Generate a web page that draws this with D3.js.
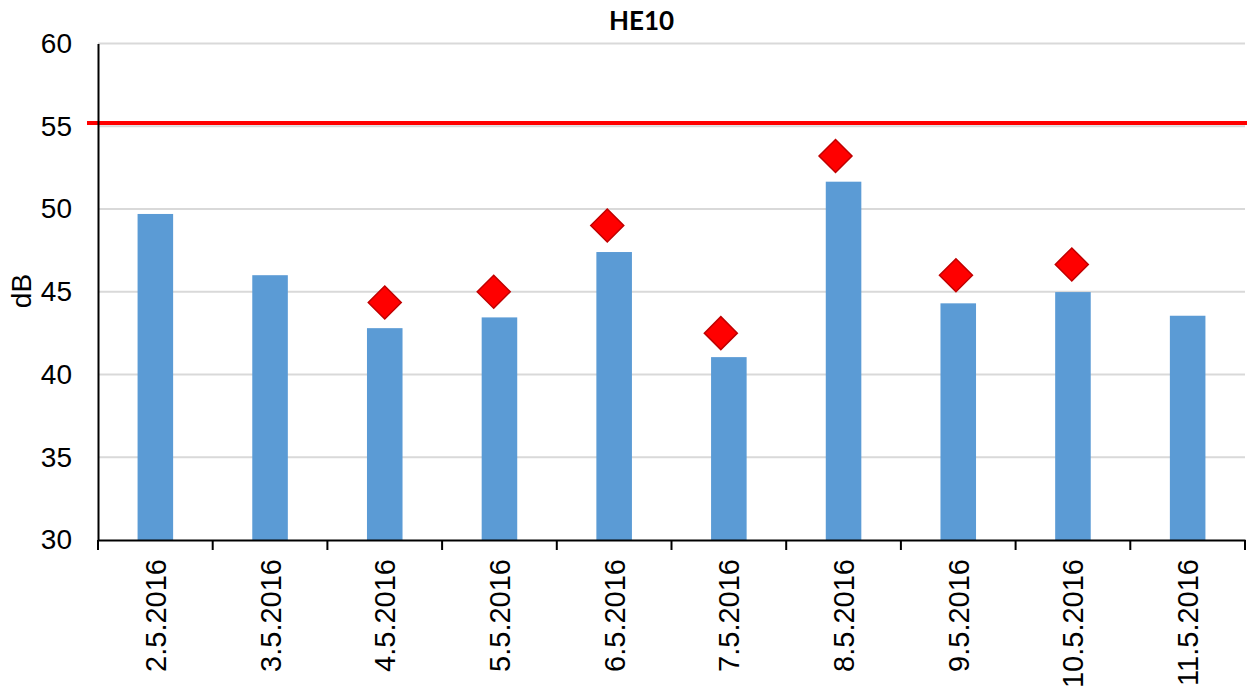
<!doctype html>
<html>
<head>
    <style>
        body { margin: 0; background: #fff; }
        .bar { fill: #5b9bd5; }
        text { font-family: "Liberation Sans", Arial, sans-serif; }
    </style>
    <script src="https://d3js.org/d3.v7.min.js"></script>
</head>
<body>
<svg width="1247" height="691"></svg>
<script>
var dates = ["2.5.2016", "3.5.2016", "4.5.2016", "5.5.2016", "6.5.2016",
             "7.5.2016", "8.5.2016", "9.5.2016", "10.5.2016", "11.5.2016"];
var barValues = [49.7, 46.0, 42.8, 43.45, 47.4, 41.05, 51.65, 44.3, 44.98, 43.55];
// diamonds: day of May (fractional, measurement time) and level
var diamondDays = [4.0, 4.95, 5.94, 6.93, 7.93, 8.98, 9.99];
var diamondValues = [44.35, 45.0, 49.0, 42.5, 53.2, 46.0, 46.65];
var limit = 55.2;
var yTicks = [30, 35, 40, 45, 50, 55, 60];

var svg = d3.select("svg"),
    plotLeft = 98, plotRight = 1245, plotTop = 43.5, plotBottom = 540;

var xScale = d3.scaleBand().domain(dates).range([plotLeft, plotRight]).paddingInner(0.69).paddingOuter(0.345),
    xAxisScale = d3.scaleBand().domain(dates).range([plotLeft, plotRight]),
    dayScale = d3.scaleLinear().domain([1.5, 11.5]).range([plotLeft, plotRight]),
    yScale = d3.scaleLinear().domain([30, 60]).range([plotBottom, plotTop]);

// gridlines
svg.append("g")
   .selectAll("line")
   .data(yTicks.filter(function(d) { return d > 30; }))
   .enter().append("line")
   .attr("x1", plotLeft).attr("x2", plotRight)
   .attr("y1", function(d) { return yScale(d); })
   .attr("y2", function(d) { return yScale(d); })
   .attr("stroke", "#d9d9d9").attr("stroke-width", 2);

// bars
svg.selectAll(".bar")
   .data(barValues)
   .enter().append("rect")
   .attr("class", "bar")
   .attr("x", function(d, i) { return xScale(dates[i]); })
   .attr("y", function(d) { return yScale(d); })
   .attr("width", xScale.bandwidth())
   .attr("height", function(d) { return plotBottom - yScale(d); });

// limit line
svg.append("line")
   .attr("x1", plotLeft - 11).attr("x2", 1247)
   .attr("y1", yScale(limit)).attr("y2", yScale(limit))
   .attr("stroke", "#ff0000").attr("stroke-width", 4);

// diamonds
svg.selectAll(".dia")
   .data(diamondValues)
   .enter().append("path")
   .attr("class", "dia")
   .attr("d", "M0,-16.5 L16.5,0 L0,16.5 L-16.5,0 Z")
   .attr("transform", function(d, i) {
       return "translate(" + dayScale(diamondDays[i]) + "," + yScale(d) + ")";
   })
   .attr("fill", "#ff0000").attr("stroke", "#c00000").attr("stroke-width", 1.5);

// y axis
var yAxis = svg.append("g")
   .attr("transform", "translate(" + plotLeft + ",0)")
   .call(d3.axisLeft(yScale).tickValues(yTicks).tickSize(0).tickPadding(26));
yAxis.select(".domain").attr("stroke", "#000").attr("stroke-width", 2);
yAxis.selectAll("text").attr("font-size", 28).attr("fill", "#000")
     .attr("font-family", "Liberation Sans, Arial, sans-serif");

// x axis
var xAxis = svg.append("g")
   .attr("transform", "translate(0," + plotBottom + ")")
   .call(d3.axisBottom(xAxisScale).tickSize(0).tickFormat(""));
xAxis.select(".domain").attr("stroke", "#000").attr("stroke-width", 2);
xAxis.selectAll(".tick").remove();

var boundaries = [plotLeft].concat(dates.map(function(d) { return xAxisScale(d) + xAxisScale.bandwidth(); }));
svg.append("g").selectAll("line")
   .data(boundaries)
   .enter().append("line")
   .attr("x1", function(d) { return d; }).attr("x2", function(d) { return d; })
   .attr("y1", plotBottom).attr("y2", plotBottom + 10)
   .attr("stroke", "#000").attr("stroke-width", 2);

svg.append("g").selectAll("text")
   .data(dates)
   .enter().append("text")
   .attr("transform", function(d) {
       return "translate(" + (xAxisScale(d) + xAxisScale.bandwidth() / 2 + 10.5) + "," + (plotBottom + 19) + ") rotate(-90)";
   })
   .attr("text-anchor", "end")
   .attr("font-size", 29)
   .attr("fill", "#000")
   .text(function(d) { return d; });

// y title
svg.append("text")
   .attr("transform", "translate(31,291) rotate(-90)")
   .attr("text-anchor", "middle")
   .attr("font-size", 28)
   .attr("fill", "#000")
   .text("dB");

// title
svg.append("text")
   .attr("x", 641.5).attr("y", 29.5)
   .attr("text-anchor", "middle")
   .attr("font-size", 26)
   .attr("font-weight", "bold")
   .style("font-family", "Lato, sans-serif")
   .attr("fill", "#000")
   .text("HE10");
</script>
</body>
</html>
